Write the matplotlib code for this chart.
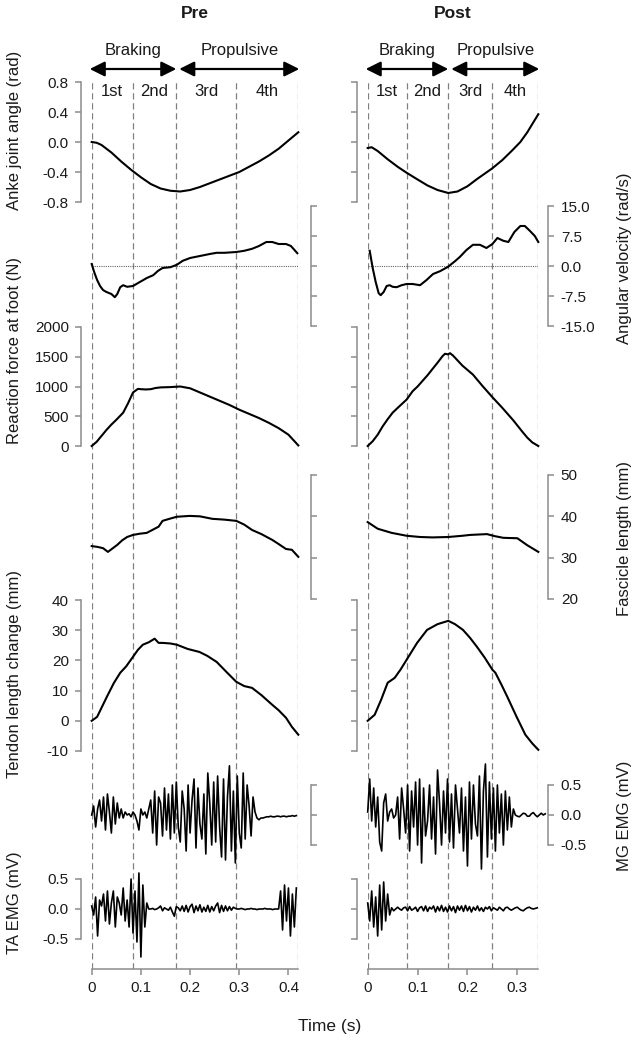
"""
plot.py

Ankle angle, angular velocity, reaction force, fascicle / tendon length and
EMG traces over the stance phase, pre vs post, drawn as stacked panels.
"""

import numpy as np
import matplotlib
matplotlib.use("Agg")
import matplotlib.pyplot as plt
import matplotlib.transforms as mtransforms
from matplotlib.ticker import FixedLocator, FuncFormatter

plt.rcParams["font.family"] = ["Liberation Sans", "DejaVu Sans"]
plt.rcParams["axes.unicode_minus"] = False

# ---------------------------------------------------------------- data ----
# phase boundaries (s): start, end of 1st, 2nd, 3rd, 4th quarter
pre_phase = [0, 0.0835, 0.172, 0.2935, 0.42]
post_phase = [0, 0.078, 0.1615, 0.2497, 0.342]
phase_names = ["1st", "2nd", "3rd", "4th"]

# ankle joint angle (rad)
pre_ankle_t = [0, 0.01, 0.02, 0.04, 0.06, 0.08, 0.10, 0.12, 0.14, 0.16, 0.18, 0.20,
               0.22, 0.24, 0.26, 0.28, 0.30, 0.32, 0.34, 0.36, 0.38, 0.40, 0.42]
pre_ankle = [0.0, -0.01, -0.04, -0.14, -0.26, -0.37, -0.47, -0.56, -0.62, -0.65, -0.66, -0.64,
             -0.60, -0.55, -0.50, -0.45, -0.40, -0.33, -0.26, -0.18, -0.09, 0.02, 0.13]
post_ankle_t = [0, 0.008, 0.02, 0.04, 0.06, 0.078, 0.10, 0.12, 0.14, 0.1615, 0.18, 0.20,
                0.22, 0.25, 0.27, 0.29, 0.306, 0.32, 0.33, 0.342]
post_ankle = [-0.08, -0.07, -0.12, -0.23, -0.33, -0.41, -0.50, -0.58, -0.64, -0.68, -0.66, -0.59,
              -0.49, -0.35, -0.24, -0.11, 0.0, 0.13, 0.24, 0.37]

# angular velocity (rad/s)
pre_angvel_t = [0, 0.005, 0.011, 0.017, 0.023, 0.030, 0.040, 0.047, 0.052, 0.058, 0.064, 0.072,
                0.084, 0.095, 0.105, 0.112, 0.125, 0.135, 0.144, 0.160, 0.173, 0.185, 0.200,
                0.220, 0.240, 0.254, 0.270, 0.294, 0.310, 0.326, 0.340, 0.355, 0.367, 0.380,
                0.395, 0.405, 0.418]
pre_angvel = [0.5, -1.5, -3.5, -5.0, -6.0, -6.5, -7.0, -7.8, -7.0, -5.3, -4.8, -5.2,
              -5.0, -4.2, -3.5, -3.0, -2.3, -1.2, -0.5, -0.3, 0.3, 1.3, 2.0,
              2.5, 3.0, 3.3, 3.3, 3.5, 3.8, 4.3, 5.0, 6.0, 6.0, 5.5,
              5.5, 5.0, 3.2]
post_angvel_t = [0.004, 0.010, 0.016, 0.022, 0.026, 0.032, 0.038, 0.044, 0.050, 0.058, 0.068,
                 0.078, 0.090, 0.105, 0.118, 0.131, 0.145, 0.161, 0.175, 0.185, 0.198, 0.211,
                 0.225, 0.238, 0.250, 0.260, 0.272, 0.282, 0.294, 0.306, 0.315, 0.325, 0.335,
                 0.342]
post_angvel = [3.8, -0.5, -4.0, -6.8, -7.3, -6.5, -5.0, -4.8, -5.2, -5.3, -4.8,
               -4.5, -4.5, -4.8, -3.5, -2.0, -1.3, -0.2, 1.2, 2.3, 4.0, 5.3,
               5.3, 4.5, 5.5, 7.0, 6.3, 6.0, 8.5, 10.0, 10.0, 8.8, 7.5,
               6.0]

# reaction force at foot (N)
pre_force_t = [0, 0.01, 0.02, 0.03, 0.04, 0.05, 0.064, 0.074, 0.084, 0.094, 0.10, 0.11, 0.12,
               0.13, 0.14, 0.16, 0.18, 0.20, 0.22, 0.24, 0.26, 0.28, 0.30, 0.32, 0.34, 0.36,
               0.38, 0.40, 0.41, 0.42]
pre_force = [0, 70, 170, 270, 360, 440, 560, 720, 900, 960, 955, 950, 955,
             975, 985, 990, 1000, 970, 900, 830, 760, 690, 610, 540, 470, 390,
             300, 190, 100, 10]
post_force_t = [0, 0.01, 0.02, 0.03, 0.04, 0.05, 0.06, 0.078, 0.09, 0.10, 0.12, 0.14, 0.15,
                0.155, 0.161, 0.165, 0.171, 0.19, 0.211, 0.23, 0.25, 0.27, 0.292, 0.31, 0.32,
                0.33, 0.342]
post_force = [0, 80, 190, 330, 450, 560, 640, 780, 920, 1000, 1190, 1400, 1510,
              1550, 1540, 1560, 1520, 1350, 1200, 1010, 820, 640, 430, 240, 140,
              60, 0]

# fascicle length (mm)
pre_fasc_t = [0, 0.012, 0.023, 0.033, 0.042, 0.052, 0.062, 0.072, 0.084, 0.098, 0.112, 0.12,
              0.128, 0.136, 0.144, 0.158, 0.173, 0.199, 0.22, 0.245, 0.27, 0.294, 0.31, 0.326,
              0.345, 0.367, 0.38, 0.395, 0.407, 0.42]
pre_fasc = [32.8, 32.6, 32.3, 31.4, 32.2, 33.1, 34.2, 35.0, 35.5, 35.8, 36.0, 36.5,
            37.0, 37.5, 38.9, 39.4, 39.9, 40.1, 40.0, 39.4, 39.2, 38.9, 38.0, 36.7,
            35.7, 34.3, 33.3, 32.1, 31.9, 30.2]
post_fasc_t = [0, 0.02, 0.048, 0.078, 0.105, 0.13, 0.1615, 0.19, 0.205, 0.239, 0.255, 0.272,
               0.30, 0.32, 0.342]
post_fasc = [38.6, 37.0, 36.0, 35.3, 35.0, 34.9, 35.0, 35.3, 35.5, 35.7, 35.2, 34.8,
             34.7, 33.0, 31.4]

# tendon length change (mm)
pre_tendon_t = [0, 0.011, 0.031, 0.045, 0.058, 0.07, 0.084, 0.094, 0.104, 0.116, 0.128, 0.136,
                0.144, 0.16, 0.173, 0.195, 0.219, 0.235, 0.254, 0.275, 0.294, 0.31, 0.326,
                0.345, 0.367, 0.38, 0.395, 0.407, 0.42]
pre_tendon = [0, 1.3, 8.0, 12.5, 15.9, 18.0, 21.2, 23.5, 25.2, 26.0, 27.2, 25.8,
              25.8, 25.6, 25.2, 23.8, 22.8, 21.5, 19.5, 16.0, 12.9, 11.5, 10.9,
              8.5, 5.3, 3.5, 1.0, -2.0, -4.6]
post_tendon_t = [0, 0.014, 0.027, 0.040, 0.054, 0.066, 0.078, 0.099, 0.119, 0.14, 0.1615,
                 0.175, 0.191, 0.205, 0.219, 0.235, 0.25, 0.256, 0.268, 0.28, 0.298, 0.316,
                 0.33, 0.342]
post_tendon = [0, 2.0, 7.0, 12.6, 14.2, 17.0, 20.2, 25.8, 30.1, 32.0, 33.1,
               32.0, 30.1, 27.5, 24.5, 20.8, 16.9, 15.9, 12.0, 7.9, 1.5, -4.6,
               -7.5, -9.6]

# EMG (mV), sampled every 4 ms from touchdown
EMG_DT = 0.004
pre_mg = [0.0, 0.15, -0.2, 0.1, 0.25, -0.1, 0.3, -0.25, 0.35, 0.05, -0.3, 0.3, -0.15, 0.2, -0.05,
          0.1, -0.05, 0.05, 0.0, 0.02, -0.03, 0.05, 0.0, -0.1, -0.25, 0.1, 0.0, 0.05, -0.05, 0.1,
          0.25, -0.3, 0.4, -0.5, 0.3, 0.2, -0.35, 0.45, -0.25, 0.35, -0.4, 0.5, -0.3,
          0.55, -0.2, -0.45, 0.4, 0.1, -0.6, 0.5, -0.3, 0.25, 0.6,
          -0.55, 0.45, -0.15, -0.4, 0.35, -0.65, 0.7, 0.2, -0.5, 0.55,
          -0.45, 0.65, -0.2, -0.7, 0.6, -0.75, 0.3, 0.82, -0.6, 0.4,
          -0.8, 0.65, -0.3, -0.55, 0.7, -0.4, 0.5, 0.15, -0.35, 0.3,
          0.05, -0.05, -0.08, -0.05, -0.05, -0.04, -0.03, -0.03, -0.02, -0.03, -0.03, -0.02,
          -0.02, -0.03, -0.02, -0.02, -0.03, -0.02, -0.02, -0.01, -0.02, -0.01]
post_mg = [0.05, 0.6, -0.1, 0.45, -0.2, 0.3, -0.45, -0.6, 0.2, 0.35, -0.1, 0.05, 0.1, -0.05, 0.0,
           0.3, -0.4, 0.45, 0.1, -0.3, 0.5, -0.6, 0.4, -0.2, 0.55, -0.5, 0.6, -0.8, 0.45,
           -0.35, -0.1, 0.5, -0.4, 0.3, -0.65, 0.75, 0.2, -0.5, 0.4, -0.3, 0.6, -0.45, 0.35,
           -0.55, 0.5, 0.1, -0.3, 0.45, -0.6, 0.3, -0.85, 0.55, -0.4, 0.5, -0.15, -0.35,
           0.65, -0.9, 0.4, 0.85, -0.7, 0.55, -0.4, 0.45, -0.6, 0.5, -0.3, 0.35, -0.5, 0.4,
           -0.25, 0.3, -0.2, 0.1,
           0.0, -0.02, -0.03, 0.0, 0.03, 0.02, -0.02, -0.02, 0.02, 0.04, 0.0, -0.03, 0.0,
           0.03, 0.0, 0.02]
pre_ta = [0.05, -0.1, 0.2, -0.45, 0.15, 0.05, 0.25, -0.2, 0.3, -0.25, 0.1, 0.3, -0.3, 0.2,
          0.1, -0.1, 0.35, -0.2, 0.15, -0.3, 0.5, -0.4, 0.3, -0.55, 0.6, -0.8, 0.4, -0.3,
          0.1, 0.0,
          0.0, 0.01, -0.01, 0.0, 0.02, 0.05, -0.03, 0.02, 0.0, -0.02, 0.03, -0.05, -0.12,
          0.04, 0.02, -0.03, 0.05, -0.04, 0.06, -0.05, 0.04, 0.08, -0.06, 0.05, -0.03, 0.07,
          -0.05, 0.03, -0.04, 0.06, -0.05, 0.04, -0.03, 0.05, 0.1, -0.06, 0.06, -0.04, 0.05,
          -0.03, 0.04, -0.02, 0.03, 0.01, 0.0, 0.0, 0.01, 0.0, -0.01, 0.0, 0.0, 0.01, 0.0,
          0.0, -0.01, 0.0, 0.0, 0.0, 0.01, 0.0, 0.0, 0.0, -0.01, 0.0, 0.0, 0.0,
          0.3, -0.35, 0.4, -0.2, 0.35, -0.45, 0.25, -0.3, 0.35]
post_ta = [0.1, -0.2, 0.3, -0.3, 0.2, -0.45, 0.4, -0.35, 0.45, -0.2, 0.25, -0.1,
           0.02, -0.03, 0.0, 0.03, 0.0, -0.02, 0.02, 0.03, -0.03, 0.04, -0.02, 0.0, 0.03,
           -0.04, 0.02, 0.04, -0.03, 0.05, -0.04, 0.03, 0.0, 0.05, -0.05, 0.04, -0.03, 0.06,
           -0.04, 0.03, -0.05, 0.05, -0.03, 0.04, -0.06, 0.05, -0.02, 0.05, -0.04, 0.06,
           -0.03, 0.04, -0.05, 0.03, -0.02, 0.05, -0.03, 0.02, -0.04, 0.03, 0.0, 0.04,
           -0.03, 0.02, 0.0, -0.02, 0.03, 0.0, -0.03, 0.02, 0.03, 0.0, -0.02, 0.0, 0.02,
           0.03, 0.0, -0.02, -0.03, 0.0, 0.02, 0.03, 0.01, 0.0, 0.01, 0.02]


def emg_series(vals):
    vals = np.array(vals)
    return np.arange(len(vals)) * EMG_DT, vals


# --------------------------------------------------------------- layout ----
W, H = 638, 1046
GRAY = "#8c8c8c"
DASH = "#808080"
TXT = "#1a1a1a"

# (key, top px, bottom px, ylim, yticks, fmt, side, ylabel, label y px)
ROWS = [
    ("ankle", 82, 202, (-0.8, 0.8), [-0.8, -0.4, 0.0, 0.4, 0.8], "%.1f", "left",
     "Anke joint angle (rad)", 130),
    ("angvel", 206, 326, (-15, 15), [-15, -7.5, 0, 7.5, 15], "%.1f", "right",
     "Angular velocity (rad/s)", 258),
    ("force", 327, 446, (0, 2000), [0, 500, 1000, 1500, 2000], "%d", "left",
     "Reaction force at foot (N)", 350),
    ("fascicle", 475, 599, (20, 50), [20, 30, 40, 50], "%d", "right",
     "Fascicle length (mm)", 538),
    ("tendon", 600, 751, (-10, 40), [-10, 0, 10, 20, 30, 40], "%d", "left",
     "Tendon length change (mm)", 674),
    ("mg", 785, 845, (-0.5, 0.5), [-0.5, 0.0, 0.5], "%.1f", "right",
     "MG EMG (mV)", 816),
    ("ta", 879, 939, (-0.5, 0.5), [-0.5, 0.0, 0.5], "%.1f", "left",
     "TA EMG (mV)", 903),
]

COLUMNS = [
    dict(title="Pre", px=(91.7, 298.3), tmax=0.42, phases=pre_phase,
         xticks=[0, 0.1, 0.2, 0.3, 0.4], labels_on="left",
         offs=dict(left=7.5, right=9.0),
         data=dict(ankle=(pre_ankle_t, pre_ankle), angvel=(pre_angvel_t, pre_angvel),
                   force=(pre_force_t, pre_force), fascicle=(pre_fasc_t, pre_fasc),
                   tendon=(pre_tendon_t, pre_tendon), mg=emg_series(pre_mg),
                   ta=emg_series(pre_ta))),
    dict(title="Post", px=(367.7, 538.3), tmax=0.342, phases=post_phase,
         xticks=[0, 0.1, 0.2, 0.3], labels_on="right",
         offs=dict(left=7.8, right=7.2),
         data=dict(ankle=(post_ankle_t, post_ankle), angvel=(post_angvel_t, post_angvel),
                   force=(post_force_t, post_force), fascicle=(post_fasc_t, post_fasc),
                   tendon=(post_tendon_t, post_tendon), mg=emg_series(post_mg),
                   ta=emg_series(post_ta))),
]

TOP_PX, BOTTOM_PX = 82, 969


def rect(x0, x1, top, bottom):
    return [x0 / W, 1 - bottom / H, (x1 - x0) / W, (bottom - top) / H]


fig = plt.figure(figsize=(W / 100, H / 100), dpi=100)

for col in COLUMNS:
    x0, x1 = col["px"]
    tmax = col["tmax"]

    # base axis: time axis + phase dashed lines
    base = fig.add_axes(rect(x0, x1, TOP_PX, BOTTOM_PX))
    base.patch.set_visible(False)
    base.set_xlim(0, tmax)
    base.set_ylim(0, 1)
    for side in ("left", "right", "top"):
        base.spines[side].set_visible(False)
    base.spines["bottom"].set_color(GRAY)
    base.spines["bottom"].set_linewidth(1.1)
    base.spines["bottom"].set_bounds(0, tmax)
    base.set_yticks([])
    base.xaxis.set_major_locator(FixedLocator(col["xticks"]))
    base.xaxis.set_major_formatter(FuncFormatter(lambda v, p: "0" if v == 0 else "%.1f" % v))
    base.tick_params(axis="x", colors=GRAY, labelcolor=TXT, labelsize=11,
                     length=4, width=1.1, pad=5)
    for b in col["phases"]:
        base.axvline(b, color=DASH, lw=0.9, ls=(0, (5, 3)), zorder=0)

    trans = mtransforms.blended_transform_factory(base.transData, fig.transFigure)
    ph = col["phases"]
    for i, name in enumerate(phase_names):
        base.text((ph[i] + ph[i + 1]) / 2, 1 - 92 / H, name, transform=trans,
                  ha="center", va="center", fontsize=12, color=TXT)

    # braking / propulsive arrows
    arrow_y = 1 - 69 / H
    spans = [("Braking", ph[0] - 0.004, ph[2]), ("Propulsive", ph[2] + 0.006, ph[4] + 0.002)]
    for label, a, b in spans:
        base.annotate("", xy=(b, arrow_y), xytext=(a, arrow_y), xycoords=trans,
                      textcoords=trans,
                      arrowprops=dict(arrowstyle="<|-|>,head_length=0.6,head_width=0.3",
                                      color="black", lw=1.6, mutation_scale=15,
                                      shrinkA=0, shrinkB=0))
        base.text((a + b) / 2, 1 - 51 / H, label, transform=trans, ha="center",
                  va="center", fontsize=12, color=TXT)

    fig.text((x0 + x1) / 2 / W, 1 - 13 / H, col["title"], ha="center", va="center",
             fontsize=12.5, fontweight="bold", color=TXT)

    # one stacked axis per trace
    for key, top, bottom, ylim, yticks, fmt, side, ylabel, label_y in ROWS:
        ax = fig.add_axes(rect(x0, x1, top, bottom))
        ax.patch.set_visible(False)
        ax.set_xlim(0, tmax)
        ax.set_ylim(*ylim)
        for s in ("left", "right", "top", "bottom"):
            ax.spines[s].set_visible(s == side)
        ax.spines[side].set_color(GRAY)
        ax.spines[side].set_linewidth(1.1)
        ax.spines[side].set_bounds(*ylim)
        ax.spines[side].set_position(("outward", col["offs"][side]))
        ax.xaxis.set_visible(False)
        ax.yaxis.set_ticks_position(side)
        ax.yaxis.set_major_locator(FixedLocator(yticks))
        show = side == col["labels_on"]
        ax.yaxis.set_major_formatter(FuncFormatter(lambda v, p, f=fmt: f % v))
        ax.tick_params(axis="y", colors=GRAY, labelcolor=TXT, labelsize=11,
                       length=4, width=1.1, pad=5,
                       labelleft=(show and side == "left"),
                       labelright=(show and side == "right"))

        if key == "angvel":
            ax.axhline(0, color="#666666", lw=0.8, ls=(0, (1, 1)))

        t, v = col["data"][key]
        is_emg = key in ("mg", "ta")
        ax.plot(t, v, color="black", lw=1.2 if is_emg else 1.5, clip_on=False)

        if show:
            lx = 15 if side == "left" else 625
            fig.text(lx / W, 1 - label_y / H, ylabel, rotation=90, ha="center",
                     va="center", fontsize=12, color=TXT)

fig.text(330 / W, 1 - 1027 / H, "Time (s)", ha="center", va="center",
         fontsize=12.5, color=TXT)

fig.savefig("out.png", dpi=100, facecolor="white")
